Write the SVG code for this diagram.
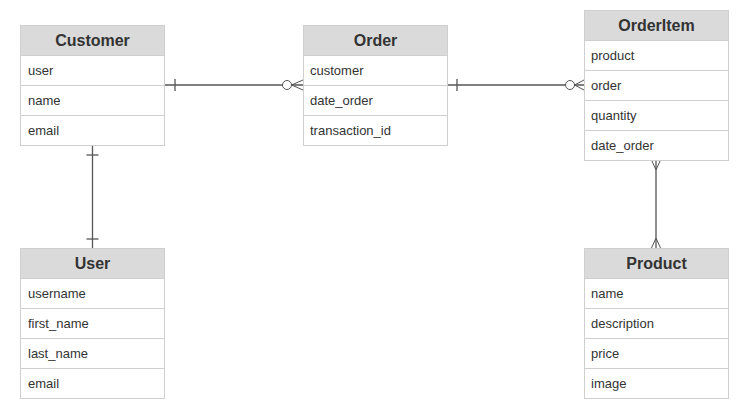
<svg xmlns="http://www.w3.org/2000/svg" width="747" height="415" viewBox="0 0 747 415">
<style>
.box{fill:#fff;stroke:#cfcfcf;stroke-width:1}
.hdr{fill:#dadada;stroke:#cfcfcf;stroke-width:1}
.sep{stroke:#cfcfcf;stroke-width:1}
.title{font-family:"Liberation Sans",Arial,sans-serif;font-weight:bold;font-size:16px;fill:#333;text-anchor:middle}
.fld{font-family:"Liberation Sans",Arial,sans-serif;font-size:13px;fill:#333}
.conn{stroke:#555;stroke-width:1.3;fill:none}
.circ{stroke:#555;stroke-width:1;fill:#fff}
</style>
<rect width="747" height="415" fill="#fff"/>
<g id="connectors">
  <line class="conn" x1="165" y1="85" x2="303" y2="85"/>
  <line class="conn" x1="175" y1="79" x2="175" y2="91"/>
  <circle class="circ" cx="287" cy="85" r="4.5"/>
  <polyline class="conn" style="stroke-width:1" points="303,80 291.5,85 303,90"/>
  <line class="conn" x1="447" y1="85" x2="584" y2="85"/>
  <line class="conn" x1="457" y1="79" x2="457" y2="91"/>
  <circle class="circ" cx="570" cy="85" r="4.5"/>
  <polyline class="conn" style="stroke-width:1" points="584,80 574.5,85 584,90"/>
  <line class="conn" x1="92.5" y1="145" x2="92.5" y2="248"/>
  <line class="conn" x1="86.5" y1="155" x2="98.5" y2="155"/>
  <line class="conn" x1="86.5" y1="239" x2="98.5" y2="239"/>
  <line class="conn" x1="656" y1="160" x2="656" y2="248"/>
  <polyline class="conn" style="stroke-width:1" points="651.5,160 656,170 660.5,160"/>
  <polyline class="conn" style="stroke-width:1" points="651.5,248 656,238 660.5,248"/>
</g>
<g id="Customer">
  <rect class="box" x="20.5" y="25.5" width="144" height="120"/>
  <rect class="hdr" x="20.5" y="25.5" width="144" height="30"/>
  <line class="sep" x1="20.5" y1="85.5" x2="164.5" y2="85.5"/>
  <line class="sep" x1="20.5" y1="115.5" x2="164.5" y2="115.5"/>
  <text class="title" x="92.5" y="46">Customer</text>
  <text class="fld" x="28" y="75">user</text>
  <text class="fld" x="28" y="105">name</text>
  <text class="fld" x="28" y="135">email</text>
</g>
<g id="Order">
  <rect class="box" x="303.5" y="25.5" width="144" height="120"/>
  <rect class="hdr" x="303.5" y="25.5" width="144" height="30"/>
  <line class="sep" x1="303.5" y1="85.5" x2="447.5" y2="85.5"/>
  <line class="sep" x1="303.5" y1="115.5" x2="447.5" y2="115.5"/>
  <text class="title" x="375.5" y="46">Order</text>
  <text class="fld" x="310" y="75">customer</text>
  <text class="fld" x="310" y="105">date_order</text>
  <text class="fld" x="310" y="135">transaction_id</text>
</g>
<g id="OrderItem">
  <rect class="box" x="584.5" y="10.5" width="144" height="150"/>
  <rect class="hdr" x="584.5" y="10.5" width="144" height="30"/>
  <line class="sep" x1="584.5" y1="70.5" x2="728.5" y2="70.5"/>
  <line class="sep" x1="584.5" y1="100.5" x2="728.5" y2="100.5"/>
  <line class="sep" x1="584.5" y1="130.5" x2="728.5" y2="130.5"/>
  <text class="title" x="656.5" y="31">OrderItem</text>
  <text class="fld" x="591" y="60">product</text>
  <text class="fld" x="591" y="90">order</text>
  <text class="fld" x="591" y="120">quantity</text>
  <text class="fld" x="591" y="150">date_order</text>
</g>
<g id="User">
  <rect class="box" x="20.5" y="248.5" width="144" height="150"/>
  <rect class="hdr" x="20.5" y="248.5" width="144" height="30"/>
  <line class="sep" x1="20.5" y1="308.5" x2="164.5" y2="308.5"/>
  <line class="sep" x1="20.5" y1="338.5" x2="164.5" y2="338.5"/>
  <line class="sep" x1="20.5" y1="368.5" x2="164.5" y2="368.5"/>
  <text class="title" x="92.5" y="269">User</text>
  <text class="fld" x="28" y="298">username</text>
  <text class="fld" x="28" y="328">first_name</text>
  <text class="fld" x="28" y="358">last_name</text>
  <text class="fld" x="28" y="388">email</text>
</g>
<g id="Product">
  <rect class="box" x="584.5" y="248.5" width="144" height="150"/>
  <rect class="hdr" x="584.5" y="248.5" width="144" height="30"/>
  <line class="sep" x1="584.5" y1="308.5" x2="728.5" y2="308.5"/>
  <line class="sep" x1="584.5" y1="338.5" x2="728.5" y2="338.5"/>
  <line class="sep" x1="584.5" y1="368.5" x2="728.5" y2="368.5"/>
  <text class="title" x="656.5" y="269">Product</text>
  <text class="fld" x="591" y="298">name</text>
  <text class="fld" x="591" y="328">description</text>
  <text class="fld" x="591" y="358">price</text>
  <text class="fld" x="591" y="388">image</text>
</g>
</svg>
